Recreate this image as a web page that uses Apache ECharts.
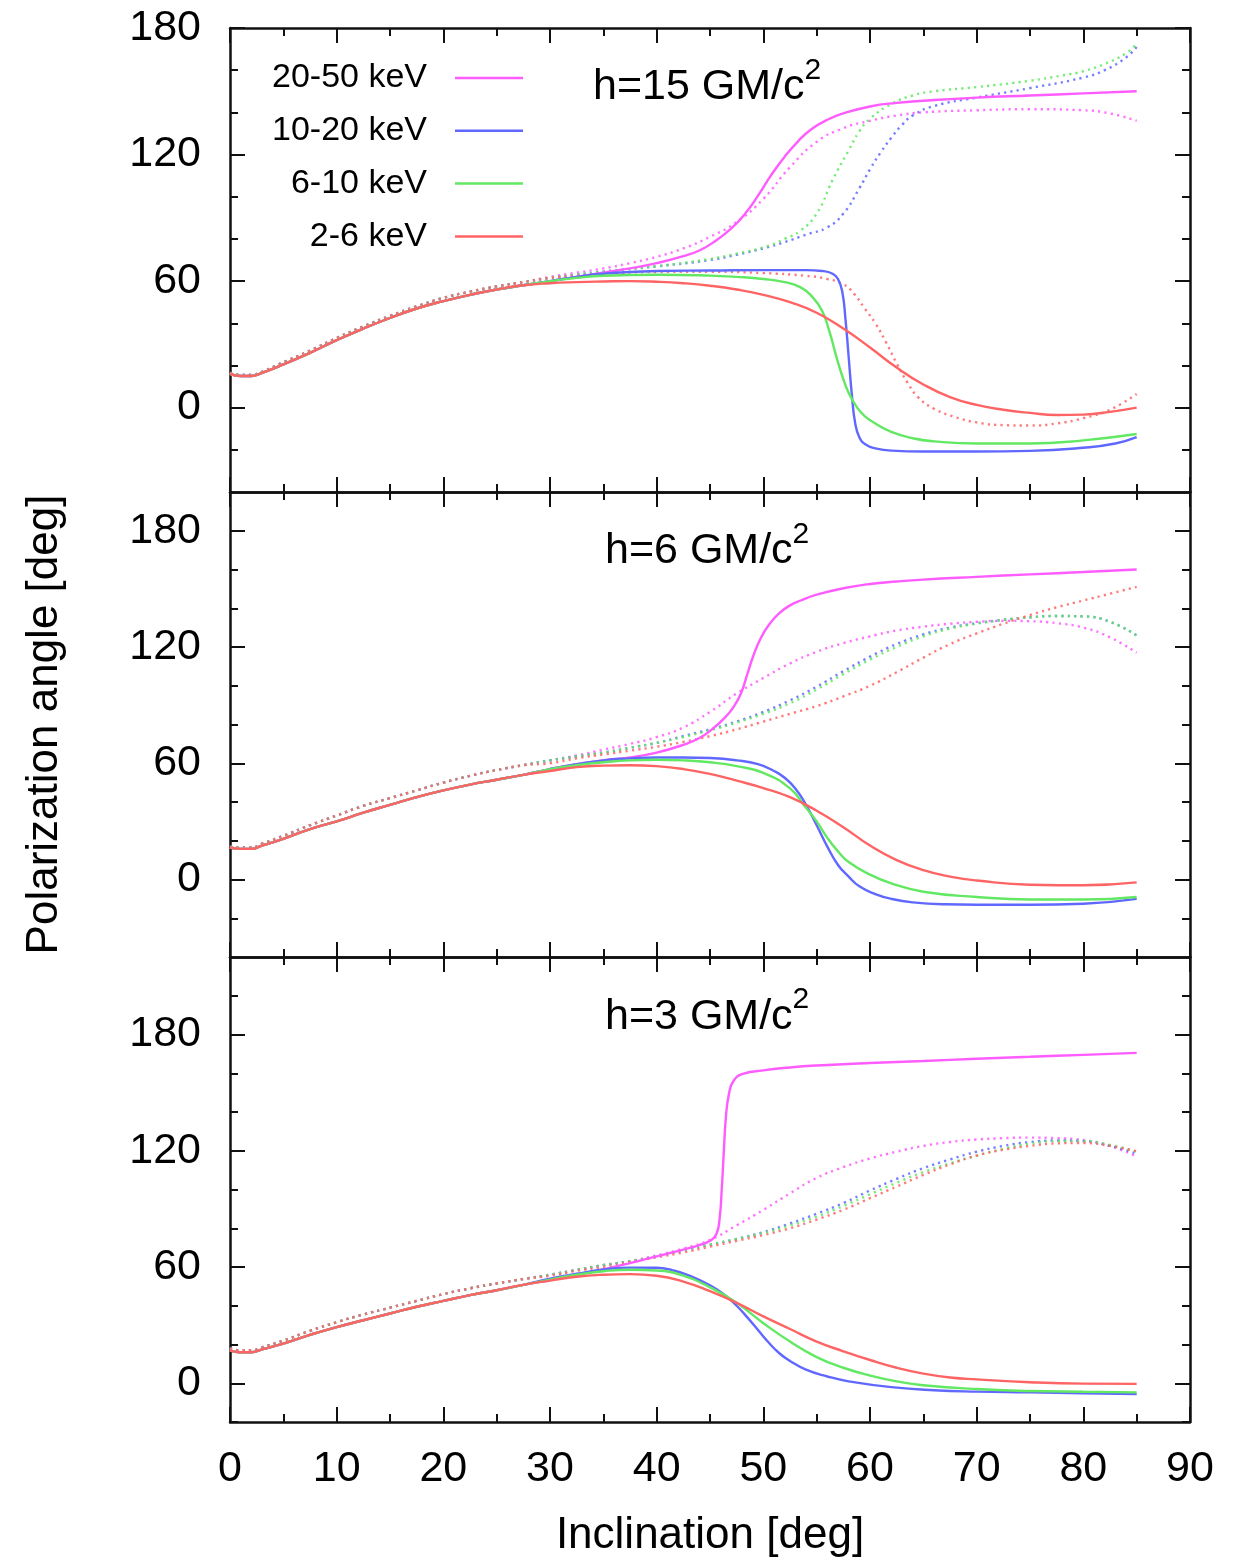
<!DOCTYPE html>
<html><head><meta charset="utf-8">
<script src="https://cdn.jsdelivr.net/npm/echarts@6/dist/echarts.min.js"></script>
<style>html,body{margin:0;padding:0;background:#fff}#c{width:1258px;height:1563px}</style>
</head><body><div id="c"></div>
<script>
// ---------------- data ----------------
const bands = ['20-50 keV', '10-20 keV', '6-10 keV', '2-6 keV'];
const panelTitles = ['h=15 GM/c', 'h=6 GM/c', 'h=3 GM/c'];
const xTickValues = [0, 10, 20, 30, 40, 50, 60, 70, 80, 90];
const yLabelValues = [0, 60, 120, 180];
const yMinorValues = [
  [-20, 20, 40, 80, 100, 140, 160],
  [-20, 20, 40, 80, 100, 140, 160],
  [-20, 20, 40, 80, 100, 140, 160, 200]
];
const yRanges = [[-40, 180], [-40, 200], [-20, 220]];

// h = 15 GM/c^2 : [inclination, polarization angle]
const h15_base_solid = [[0,16],[1,15],[2,15],[3,16.5],[5,20.5],[7.5,26],[10,32],[12.5,37.5],[15,42.5],[17.5,47],[20,50.5],[22.5,53.5],[25,56],[27.5,58]];
const h15_base_dot = [[0,16.5],[1,15.5],[2,15.5],[3,17],[5,21.5],[7.5,27],[10,33],[12.5,38.5],[15,43.5],[17.5,48],[20,52],[22.5,55],[25,57.5],[27.5,59.5]];
const h15_2050 = [[30,60],[32.5,62],[35,64],[37.5,66],[40,68.5],[42.5,71.8],[44,74.5],[45.5,79],[47,85],[48.3,92],[49.5,100.5],[50.7,110],[52,119],[53.3,126.5],[54.5,132],[56,136.5],[57.5,139.5],[60,142.8],[62.5,144.5],[65,145.5],[70,147],[75,148],[80,149],[85,150]];
const h15_1020 = [[30,60],[32.5,62],[35,63.5],[40,64.8],[45,65],[50,65.2],[54,65.2],[55.5,64.8],[56.5,63.5],[57,61],[57.4,55],[57.7,42],[58,24],[58.3,6],[58.6,-7],[59,-14],[59.6,-17.5],[60.5,-19.3],[62,-20.4],[65,-20.8],[70,-20.8],[75,-20.5],[80,-19],[83,-17],[85,-14]];
const h15_610 = [[30,60],[32.5,61.5],[35,62.5],[40,63],[45,62.6],[47.5,62],[50,61],[52,59.5],[53.5,57],[54.5,53],[55.5,46],[56.2,36],[56.8,25],[57.4,15],[58,7],[58.8,0],[59.5,-4],[60.5,-7.5],[62,-11.5],[64,-14.5],[66,-16],[70,-17],[75,-17],[80,-15.5],[85,-12.5]];
const h15_26 = [[30,59],[32.5,59.5],[35,59.8],[37.5,60],[40,59.7],[42.5,59],[45,57.8],[47.5,56],[50,53.5],[52.5,50],[55,45],[57.5,37.5],[60,28.5],[62.5,19],[65,11],[67.5,5],[70,1.3],[72.5,-1],[75,-2.5],[77.5,-3.5],[80,-3.3],[82.5,-2],[85,0]];
const h15_2050_dot = [[30,62],[32.5,64],[35,66],[37.5,68.5],[40,71.5],[42.5,75.5],[45,81],[47.5,88],[50,99],[52.5,114],[55,126],[57.5,132.5],[60,136],[62.5,138.5],[65,140],[70,141],[75,141.5],[80,141],[82.5,139.5],[85,136]];
const h15_1020_dot = [[30,61.5],[32.5,63],[35,64.5],[40,67],[45,70],[47.5,72.5],[50,75.5],[52,78.5],[54,82],[56,85.5],[57.5,92],[59,104],[60,113],[61,121],[62,128],[63,134],[64,138.5],[66,143],[70,147],[75,151.5],[80,156.5],[82,160],[84,166],[85,171]];
const h15_610_dot = [[30,61.5],[32.5,63],[35,64.5],[40,67],[45,70.5],[47.5,73],[50,76],[52,80],[53.5,84],[55,92],[56.5,108],[58,122],[59,131],[60,137],[62,144],[64,148],[66,150],[70,152],[75,155],[78,157.5],[80,159.5],[82,163],[84,168],[85,172.5]];
const h15_26_dot = [[30,61.5],[32.5,62.5],[35,63.5],[40,64.3],[45,64.4],[50,63.8],[54,62.5],[56,61],[57.5,58.5],[58.5,54],[59.5,47],[60.5,40],[61.5,31],[62.5,21],[63.5,12],[64.5,5],[66,-0.5],[68,-4.5],[70,-7],[72.5,-8.3],[75,-8.5],[77.5,-7.5],[80,-5],[82.5,-1],[85,6.5]];

// h = 6 GM/c^2
const h6_base_solid = [[0,16.5],[1,15.8],[2,15.8],[3,17.5],[5,21],[7.5,26],[10,30],[12.5,34.5],[15,38.5],[17.5,42.5],[20,46],[22.5,49],[25,51.5],[27.5,54]];
const h6_base_dot = [[0,17],[1,16.5],[2,16.5],[3,18.5],[5,22.5],[7.5,28],[10,33],[12.5,38],[15,42],[17.5,46],[20,50],[22.5,53.5],[25,56.5],[27.5,59]];
const h6_2050 = [[30,57],[32.5,59.5],[35,61.5],[37.5,63],[40,65.5],[42.5,69.5],[44,73],[45.3,78],[46.3,83],[47.2,89],[47.9,96],[48.5,106],[49.1,116],[49.8,125],[50.6,132],[51.5,137.5],[52.5,141.5],[53.5,144],[55,147],[57.5,150.3],[60,152.5],[62.5,153.8],[65,154.8],[70,156.2],[75,157.5],[80,158.7],[85,160]];
const h6_1020 = [[30,57],[32.5,59.5],[35,61.5],[37.5,62.5],[40,63],[42.5,63],[45,62.7],[47.5,61.5],[49.5,59.5],[51,56],[52,52.5],[53,47],[54,38.5],[55,28],[56,17],[57,7.5],[58,1.5],[59,-3.5],[60.5,-7.5],[62,-10],[64,-11.8],[67,-12.8],[70,-13],[75,-13],[80,-12.5],[85,-10]];
const h6_610 = [[30,57],[32.5,59],[35,60.5],[37.5,61.5],[40,61.8],[42.5,61.5],[45,60.5],[47.5,58.5],[50,55],[52.5,47],[54,37],[55,30],[56,21.5],[57,14.5],[58,9],[60,2.5],[62,-2],[65,-6.3],[70,-9],[75,-10.3],[80,-10.3],[85,-9]];
const h6_26 = [[30,56],[32.5,58],[35,58.8],[37.5,59],[40,58.5],[42.5,57],[45,54.5],[47.5,51],[50,47.2],[52.5,42.5],[55,35.5],[57.5,27],[60,17.5],[62.5,10],[65,4.8],[67.5,1.5],[70,-0.5],[75,-2.7],[80,-3],[85,-1.5]];
const h6_2050_dot = [[30,61.5],[32.5,64],[35,67],[37.5,70],[40,73.5],[42.5,78.5],[45,86.5],[47.5,96],[50,104],[52.5,111.5],[55,117.5],[57.5,122],[60,125.5],[62.5,128.5],[65,130.5],[67.5,132],[70,133],[72.5,133.5],[75,133.3],[77.5,132.3],[80,130],[82.5,125],[85,117]];
const h6_1020_dot = [[30,61.5],[32.5,63.5],[35,65.5],[37.5,68],[40,70.5],[42.5,74],[45,77.5],[47.5,81.5],[50,86.5],[52.5,92.5],[55,99.5],[57.5,107.5],[60,115],[62.5,121.5],[65,126.5],[67.5,130],[70,132.3],[72.5,134],[75,135.3],[77.5,136],[80,135.8],[82.5,133],[85,126]];
const h6_610_dot = [[30,61.5],[32.5,63.5],[35,65.5],[37.5,68],[40,70.5],[42.5,73.5],[45,77],[47.5,81],[50,85.5],[52.5,91],[55,98],[57.5,106],[60,113.5],[62.5,120],[65,125.5],[67.5,129.5],[70,132],[72.5,134],[75,135.3],[77.5,136],[80,135.8],[82.5,133],[85,126]];
const h6_26_dot = [[30,60],[32.5,62.5],[35,64.5],[37.5,66.5],[40,68.5],[42.5,71],[45,74],[47.5,77.5],[50,81.5],[52.5,85.5],[55,89.5],[57.5,94.5],[60,100],[62.5,107],[65,114.5],[67.5,121.5],[70,127],[72.5,132],[75,136.5],[77.5,140.5],[80,144],[82.5,147.5],[85,151]];

// h = 3 GM/c^2
const h3_base_solid = [[0,17],[1,16],[2,16],[3,17.5],[5,20.5],[7.5,25],[10,29],[12.5,32.5],[15,36],[17.5,39.5],[20,42.5],[22.5,45.5],[25,48],[27.5,50.8]];
const h3_base_dot = [[0,18],[1,17],[2,17],[3,18.5],[5,22],[7.5,27],[10,31.5],[12.5,35.5],[15,39],[17.5,42.5],[20,46],[22.5,49],[25,51.5],[27.5,53.8]];
const h3_2050 = [[30,53.3],[32.5,56],[35,58.8],[37.5,62],[40,65.5],[42.5,69],[44,71.3],[45,73.5],[45.6,77],[45.9,85],[46.1,100],[46.3,120],[46.5,138],[46.8,150],[47.2,156],[48,159.5],[50,161.5],[52.5,163],[55,164],[60,165.3],[65,166.3],[70,167.5],[75,168.5],[80,169.5],[85,170.5]];
const h3_1020 = [[30,54],[32.5,56.5],[35,58.7],[37.5,59.7],[40,59.6],[41.5,58.3],[43,55.7],[45,50.5],[46.5,45],[47.5,40],[48.5,34],[49.5,27.5],[50.5,21],[51.5,15.5],[52.5,11.5],[54,7],[56,3.5],[58,1],[62,-2],[66,-3.6],[70,-4.3],[75,-4.7],[80,-5.2],[85,-5.6]];
const h3_610 = [[30,53.5],[32.5,56],[35,57.8],[37.5,58.6],[40,58.2],[42.5,55.5],[45,49.5],[47.5,41.5],[50,31],[52.5,21.5],[55,13.5],[57.5,8],[60,4],[62.5,1],[65,-1],[70,-3],[75,-4],[80,-4.4],[85,-4.7]];
const h3_26 = [[30,53],[32.5,55],[35,56],[37.5,56.3],[40,55.5],[42.5,52.5],[45,47.5],[47.5,41.5],[50,34.5],[52.5,28],[55,21.5],[57.5,16.5],[60,12],[62.5,8],[65,5],[67.5,3],[70,2],[75,0.5],[80,-0.2],[85,-0.3]];
const h3_2050_dot = [[30,56],[32.5,58.5],[35,61],[37.5,63],[40,66],[42.5,69.5],[45,74],[47.5,81.5],[50,89.5],[52.5,98],[55,106],[57.5,111.5],[60,116],[62.5,119.5],[65,122.5],[67.5,124.5],[70,125.8],[72.5,126.5],[75,126.8],[77.5,126.5],[80,125.5],[82.5,122.5],[85,117]];
const h3_1020_dot = [[30,56],[32.5,58.5],[35,61],[37.5,63],[40,65.5],[42.5,68.5],[45,71.5],[47.5,74.5],[50,78],[52.5,82.5],[55,87.5],[57.5,93],[60,99.5],[62.5,105.5],[65,111],[67.5,115.5],[70,119.5],[72.5,122.5],[75,124.5],[77.5,125.3],[80,125],[82.5,122.5],[85,118.5]];
const h3_610_dot = [[30,56],[32.5,58.5],[35,61],[37.5,63],[40,65.5],[42.5,68.5],[45,71.5],[47.5,74.5],[50,77.5],[52.5,81.5],[55,86],[57.5,91.5],[60,97.5],[62.5,103.5],[65,109],[67.5,113.5],[70,117.5],[72.5,121],[75,123.5],[77.5,125],[80,125],[82.5,123],[85,119.5]];
const h3_26_dot = [[30,55.5],[32.5,58],[35,60],[37.5,62.5],[40,65],[42.5,67.5],[45,70.5],[47.5,73.5],[50,76.5],[52.5,80],[55,84.5],[57.5,89.5],[60,95.5],[62.5,101.5],[65,107.5],[67.5,113],[70,117.5],[72.5,120.5],[75,122.5],[77.5,123.8],[80,124],[82.5,122.5],[85,119.7]];

const panels = [
  {base: h15_base_solid, baseDot: h15_base_dot, solid: [h15_2050, h15_1020, h15_610, h15_26], dot: [h15_2050_dot, h15_1020_dot, h15_610_dot, h15_26_dot]},
  {base: h6_base_solid, baseDot: h6_base_dot, solid: [h6_2050, h6_1020, h6_610, h6_26], dot: [h6_2050_dot, h6_1020_dot, h6_610_dot, h6_26_dot]},
  {base: h3_base_solid, baseDot: h3_base_dot, solid: [h3_2050, h3_1020, h3_610, h3_26], dot: [h3_2050_dot, h3_1020_dot, h3_610_dot, h3_26_dot]}
];

// ---------------- style ----------------
const FONT = '"Liberation Sans", Arial, Helvetica, sans-serif';
const colors = ['#ff5cff', '#6068ff', '#62e862', '#ff6464'];
const INK = '#111';
const gridBoxes = [{top: 28, height: 464}, {top: 492, height: 465}, {top: 957, height: 465}];

const grid = gridBoxes.map(b => ({left: 230, width: 960, top: b.top, height: b.height, containLabel: false}));

const xAxis = [];
const yAxis = [];
gridBoxes.forEach((b, g) => {
  ['bottom', 'top'].forEach(pos => {
    xAxis.push({
      gridIndex: g, type: 'value', position: pos, min: 0, max: 90, interval: 10,
      axisLine: {show: true, onZero: false, lineStyle: {color: INK, width: 2.5}},
      axisTick: {show: true, inside: true, length: 15, lineStyle: {color: INK, width: 2}},
      minorTick: {show: true, splitNumber: 2, length: 8, lineStyle: {color: INK, width: 2}},
      splitLine: {show: false}, minorSplitLine: {show: false},
      axisLabel: {show: pos === 'bottom' && g === 2, fontSize: 43, color: '#000', fontFamily: FONT, margin: 26,
        customValues: xTickValues},
      name: (pos === 'bottom' && g === 2) ? 'Inclination [deg]' : '',
      nameLocation: 'middle', nameGap: 92,
      nameTextStyle: {fontSize: 44, color: '#000', fontFamily: FONT}
    });
  });
  ['left', 'right'].forEach(pos => {
    yAxis.push({
      gridIndex: g, type: 'value', position: pos, min: yRanges[g][0], max: yRanges[g][1],
      axisLine: {show: true, onZero: false, lineStyle: {color: INK, width: 2.5}},
      axisTick: {show: true, inside: true, length: 15, lineStyle: {color: INK, width: 2}, customValues: yLabelValues},
      splitLine: {show: false},
      axisLabel: {show: pos === 'left', customValues: yLabelValues, fontSize: 43, color: '#000', fontFamily: FONT, margin: 29},
      name: (pos === 'left' && g === 1) ? 'Polarization angle [deg]' : '',
      nameLocation: 'middle', nameRotate: 90, nameGap: 163,
      nameTextStyle: {fontSize: 44, color: '#000', fontFamily: FONT}
    });
    yAxis.push({
      gridIndex: g, type: 'value', position: pos, min: yRanges[g][0], max: yRanges[g][1],
      axisLine: {show: false, onZero: false},
      axisTick: {show: true, inside: true, length: 8, lineStyle: {color: INK, width: 2}, customValues: yMinorValues[g]},
      splitLine: {show: false},
      axisLabel: {show: false}
    });
  });
});

const series = [];
panels.forEach((p, g) => {
  bands.forEach((name, b) => {
    series.push({
      name: name, type: 'line', xAxisIndex: 2 * g, yAxisIndex: 4 * g,
      data: p.base.concat(p.solid[b]), color: colors[b],
      showSymbol: false, symbol: 'none', smooth: 0.5,
      lineStyle: {color: colors[b], width: 2.4}, silent: true, z: 3
    });
    series.push({
      name: name + ' (dotted)', type: 'line', xAxisIndex: 2 * g, yAxisIndex: 4 * g,
      data: p.baseDot.concat(p.dot[b]), color: colors[b],
      showSymbol: false, symbol: 'none', smooth: 0.5,
      lineStyle: {color: colors[b], width: 2.4, type: [2.2, 4.2], opacity: 0.85}, silent: true, z: 2
    });
  });
});

const titleTops = [55.5, 519.5, 985];
const titleLefts = [593, 605, 605];
const title = panelTitles.map((t, i) => ({
  text: '{m|' + t + '}{s|2}', left: titleLefts[i], top: titleTops[i], padding: 0,
  textStyle: {fontWeight: 'normal', rich: {
    m: {fontSize: 43, lineHeight: 64, color: '#000', fontFamily: FONT, fontWeight: 'normal'},
    s: {fontSize: 30, lineHeight: 18, verticalAlign: 'top', color: '#000', fontFamily: FONT, fontWeight: 'normal'}
  }}
}));

const option = {
  animation: false,
  backgroundColor: '#fff',
  textStyle: {fontFamily: FONT},
  title: title,
  grid: grid, xAxis: xAxis, yAxis: yAxis,
  legend: {
    data: bands, orient: 'vertical', align: 'right', right: 735, top: 61, padding: 0,
    icon: 'rect', itemWidth: 68, itemHeight: 2.5, itemGap: 18.8, selectedMode: false,
    textStyle: {fontSize: 34, lineHeight: 34, color: '#000', fontFamily: FONT, padding: [0, 23, 0, 0]}
  },
  series: series
};
const chart = echarts.init(document.getElementById('c'), null, {renderer: 'canvas'});
chart.setOption(option);
</script></body></html>
